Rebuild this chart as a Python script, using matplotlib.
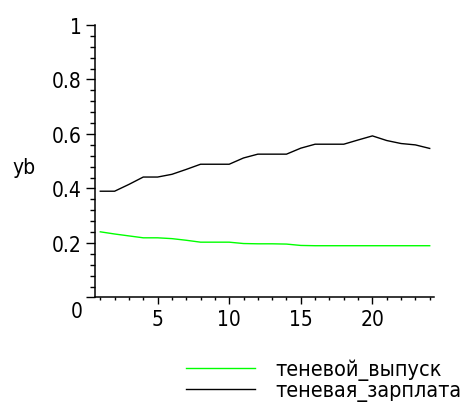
import matplotlib
matplotlib.use('Agg')
import matplotlib.pyplot as plt
import matplotlib.ticker as tick

plt.rcParams['font.family'] = ['DejaVu Sans']
plt.rcParams['font.stretch'] = 'condensed'

# ---- data ----
t = list(range(1, 25))
vypusk = [0.241, 0.233, 0.226, 0.219, 0.219, 0.216, 0.210, 0.203, 0.203, 0.203,
          0.198, 0.197, 0.197, 0.196, 0.191, 0.190, 0.190, 0.190, 0.190, 0.190,
          0.190, 0.190, 0.190, 0.190]
zarplata = [0.390, 0.390, 0.415, 0.442, 0.442, 0.452, 0.470, 0.489, 0.489, 0.489,
            0.512, 0.526, 0.526, 0.526, 0.548, 0.5625, 0.5625, 0.5625, 0.578, 0.593,
            0.576, 0.565, 0.560, 0.547]
names = ['теневой_выпуск', 'теневая_зарплата']
yticks = [0, 0.2, 0.4, 0.6, 0.8, 1]
ylabels = ['', '0.2', '0.4', '0.6', '0.8', '1']
xticks = [5, 10, 15, 20]

f = plt.figure(figsize=(4.7, 4.06), dpi=100)
ax = f.add_axes([0.2021, 0.2648, 0.7213, 0.6712])

ax.plot(t, vypusk, c='#00ff00', linewidth=1, label=names[0])
ax.plot(t, zarplata, c='black', linewidth=1, label=names[1])

ax.set_xlim(0.63, 24.3)
ax.set_ylim(0, 1)
ax.spines['top'].set_visible(False)
ax.spines['right'].set_visible(False)
ax.spines['left'].set_linewidth(1.1)
ax.spines['bottom'].set_linewidth(1.1)

ax.set_xticks(xticks)
ax.xaxis.set_minor_locator(tick.MultipleLocator(1))
ax.set_yticks(yticks)
ax.set_yticklabels(ylabels)
ax.yaxis.set_minor_locator(tick.MultipleLocator(0.04))

ax.tick_params(axis='y', which='major', direction='out', length=6.5, width=1, labelsize=15, pad=3)
ax.tick_params(axis='y', which='minor', direction='out', length=3.6, width=1)
ax.tick_params(axis='x', which='major', direction='out', length=5, width=1, labelsize=15, pad=3)
ax.tick_params(axis='x', which='minor', direction='out', length=2.5, width=1)

# the zero label sits below the corner
ax.annotate('0', xy=(0, 0), xycoords='axes fraction', xytext=(-12, -14),
            textcoords='offset pixels', ha='right', va='center', fontsize=15)

ax.set_ylabel('yb', rotation=0, fontsize=15, ha='center', va='center')
ax.yaxis.set_label_coords(-0.21, 0.48)

f.legend(loc='upper left', bbox_to_anchor=(186 / 470, 1 - 360 / 406),
         frameon=False, fontsize=15.5, handlelength=3.2, handletextpad=0.95,
         labelspacing=0.0, borderpad=0, borderaxespad=0)

f.savefig('out.png', dpi=100)
